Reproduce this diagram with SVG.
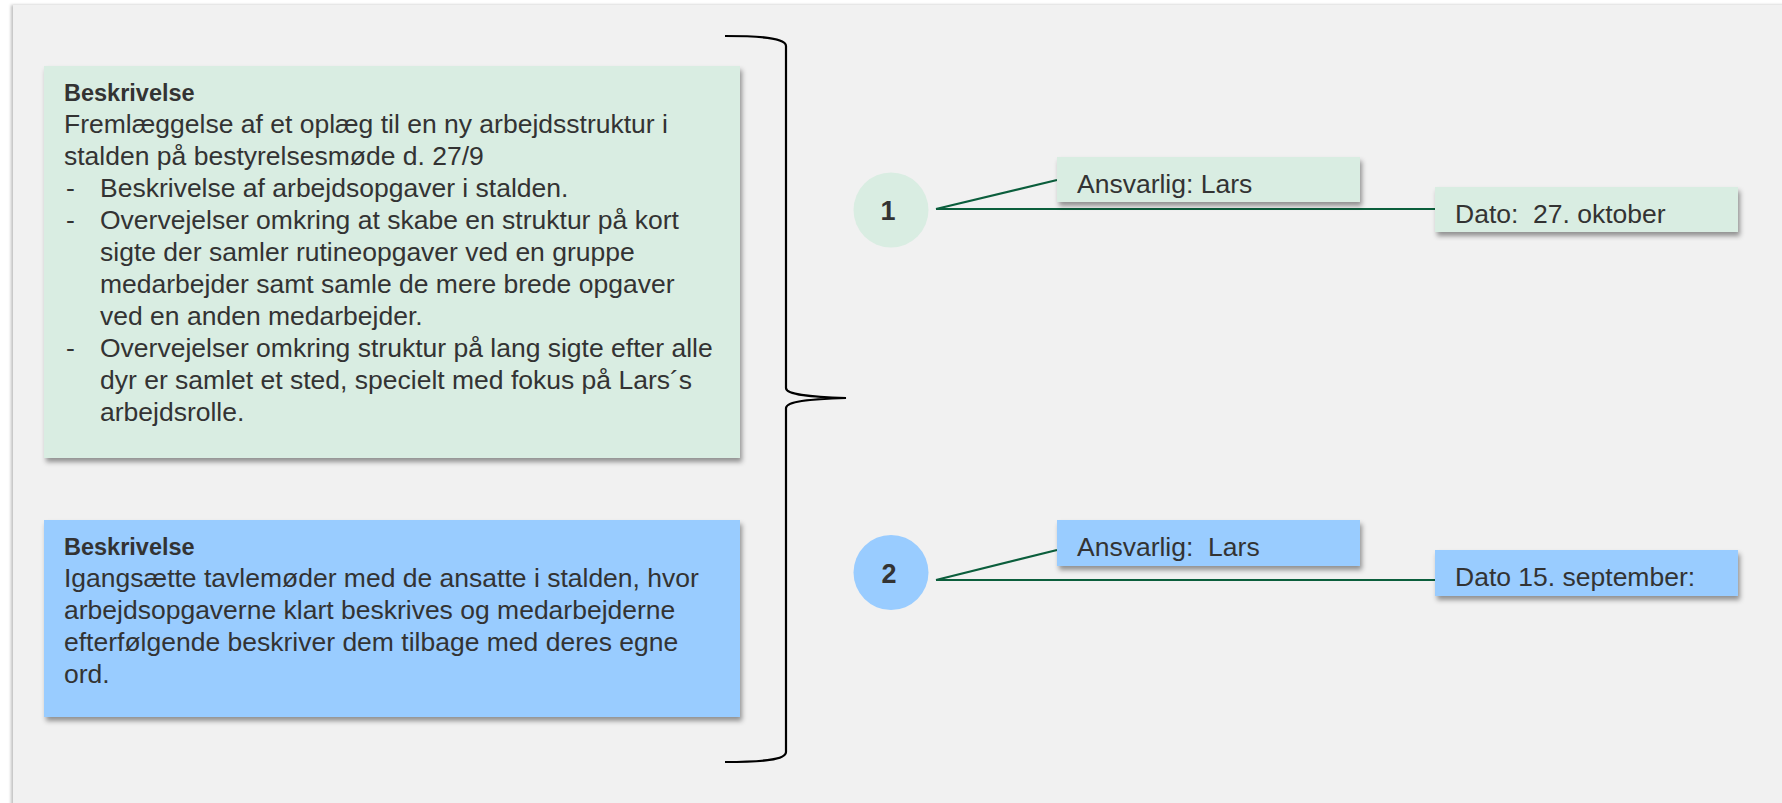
<svg xmlns="http://www.w3.org/2000/svg" width="1782" height="803" viewBox="0 0 1782 803">
<defs>
<filter id="sh" x="-5%" y="-10%" width="115%" height="130%">
<feDropShadow dx="2" dy="4" stdDeviation="2.5" flood-color="#000" flood-opacity="0.4"/>
</filter>
<filter id="psh" x="-2%" y="-2%" width="104%" height="104%">
<feDropShadow dx="-2" dy="0" stdDeviation="1.5" flood-color="#000" flood-opacity="0.25"/>
</filter>
</defs>
<style>
text{font-family:"Liberation Sans",Arial,sans-serif;font-size:26.5px;fill:#333;white-space:pre}
.b{font-weight:bold;font-size:23.5px}
.g{fill:#d9ede2}
.bl{fill:#99ccff}
.con{stroke:#0b5e3c;stroke-width:2.2;fill:none}
.num{font-weight:bold;text-anchor:middle;font-size:27px}
</style>
<rect width="1782" height="803" fill="#ffffff"/>
<rect x="13" y="5" width="1775" height="805" fill="#f1f1f1" filter="url(#psh)"/>

<g id="desc1">
<rect x="44" y="66" width="696" height="392" class="g" filter="url(#sh)"/>
<text x="64" y="101" class="b">Beskrivelse</text>
<text x="64" y="133">Fremlæggelse af et oplæg til en ny arbejdsstruktur i</text>
<text x="64" y="165">stalden på bestyrelsesmøde d. 27/9</text>
<text x="66" y="197">-</text><text x="100" y="197">Beskrivelse af arbejdsopgaver i stalden.</text>
<text x="66" y="229">-</text><text x="100" y="229">Overvejelser omkring at skabe en struktur på kort</text>
<text x="100" y="261">sigte der samler rutineopgaver ved en gruppe</text>
<text x="100" y="293">medarbejder samt samle de mere brede opgaver</text>
<text x="100" y="325">ved en anden medarbejder.</text>
<text x="66" y="357">-</text><text x="100" y="357">Overvejelser omkring struktur på lang sigte efter alle</text>
<text x="100" y="389">dyr er samlet et sted, specielt med fokus på Lars´s</text>
<text x="100" y="421">arbejdsrolle.</text>
</g>

<g id="desc2">
<rect x="44" y="520" width="696" height="197" class="bl" filter="url(#sh)"/>
<text x="64" y="555" class="b">Beskrivelse</text>
<text x="64" y="587">Igangsætte tavlemøder med de ansatte i stalden, hvor</text>
<text x="64" y="619">arbejdsopgaverne klart beskrives og medarbejderne</text>
<text x="64" y="651">efterfølgende beskriver dem tilbage med deres egne</text>
<text x="64" y="683">ord.</text>
</g>

<g id="bracket">
<path d="M725,36 C762,36 786,38 786,46 L786,388 C786,395 812,397 846,398 C812,399 786,401 786,408 L786,752 C786,760 762,762 725,762" fill="none" stroke="#000" stroke-width="2.2"/>
</g>

<g id="connectors">
<path class="con" d="M936,209 L1057,180"/>
<path class="con" d="M936,209 L1435,209"/>
<path class="con" d="M936,580 L1057,550"/>
<path class="con" d="M936,580 L1435,580"/>
</g>

<g id="step1">
<circle cx="891" cy="210" r="37.5" class="g"/>
<text x="888" y="220" class="num">1</text>
</g>
<g id="resp1">
<rect x="1057" y="157" width="303" height="45" class="g" filter="url(#sh)"/>
<text x="1077" y="193">Ansvarlig: Lars</text>
</g>
<g id="date1">
<rect x="1435" y="187" width="303" height="45" class="g" filter="url(#sh)"/>
<text x="1455" y="223">Dato:  27. oktober</text>
</g>

<g id="step2">
<circle cx="891" cy="572.5" r="37.5" class="bl"/>
<text x="889" y="583" class="num">2</text>
</g>
<g id="resp2">
<rect x="1057" y="520" width="303" height="46" class="bl" filter="url(#sh)"/>
<text x="1077" y="556">Ansvarlig:  Lars</text>
</g>
<g id="date2">
<rect x="1435" y="550" width="303" height="46" class="bl" filter="url(#sh)"/>
<text x="1455" y="586">Dato 15. september:</text>
</g>
</svg>
